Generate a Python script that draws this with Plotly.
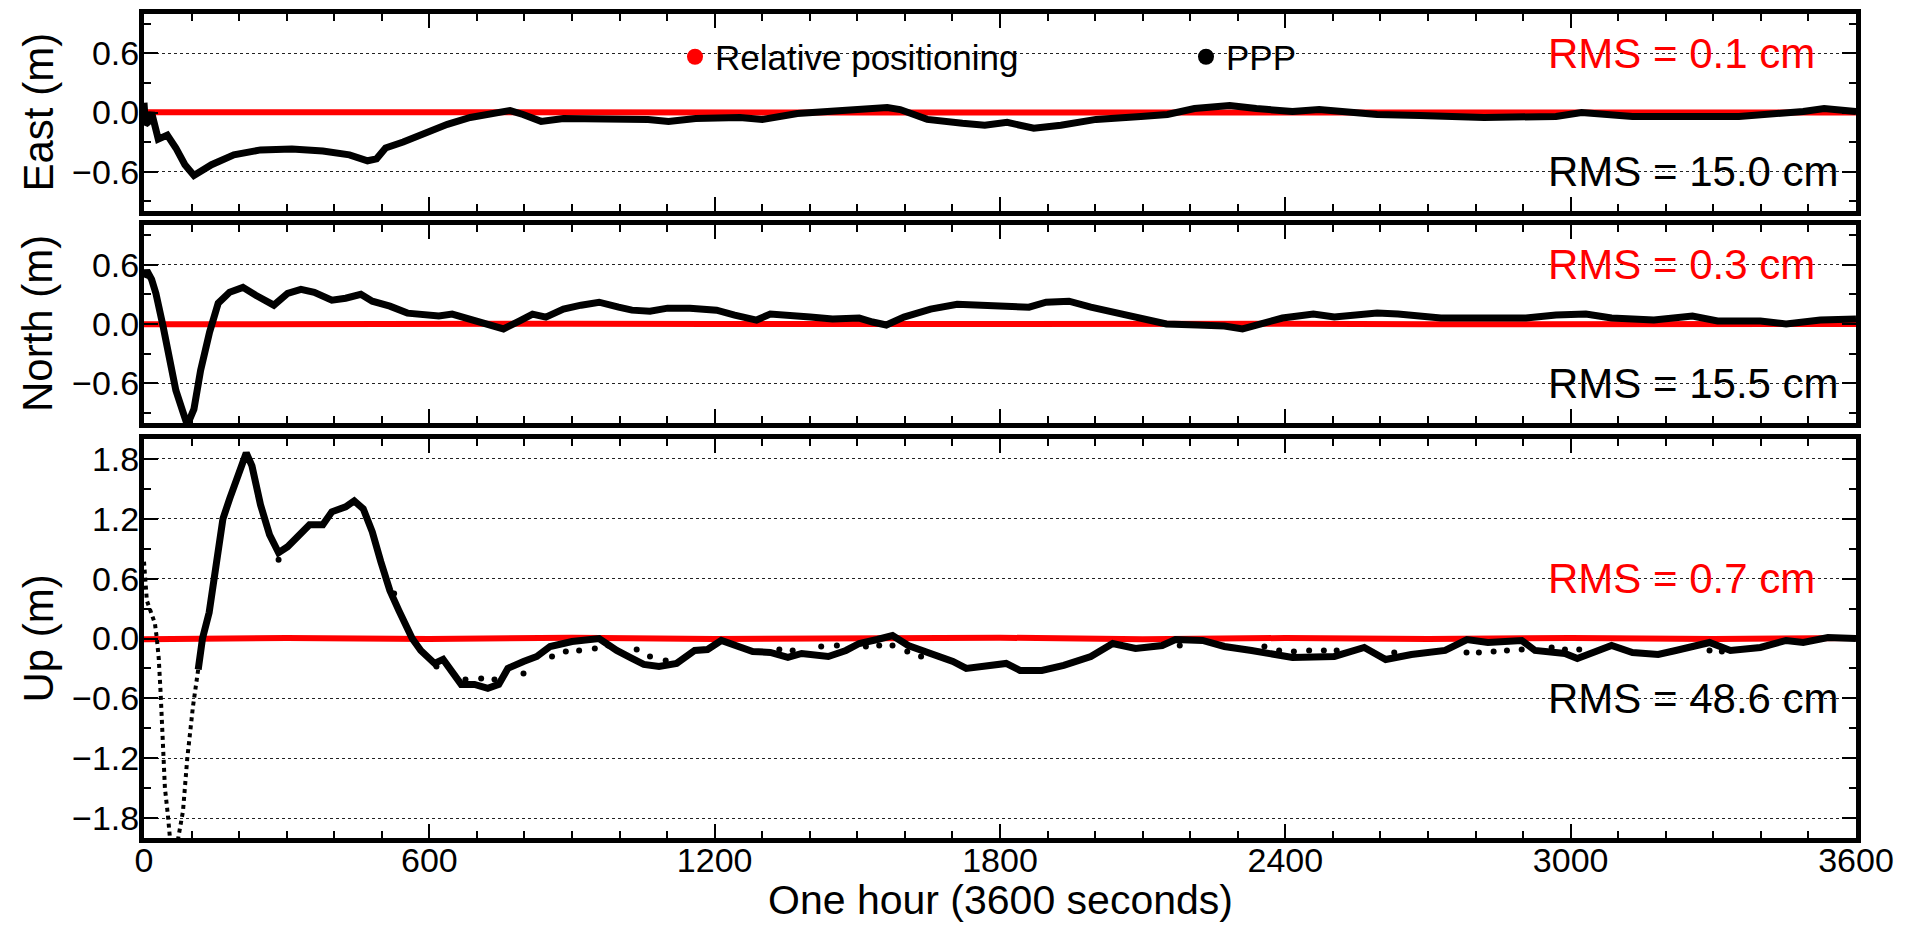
import plotly.graph_objects as go

# ---------------- data ----------------
# East PPP
east_t = [0, 3, 8, 16, 30, 49, 67, 86, 105, 124, 142, 189, 245, 311, 376, 432, 470, 489, 508, 545,
          592, 638, 686, 732, 770, 797, 835, 882, 967, 1060, 1103, 1160, 1253, 1300, 1374, 1459, 1563, 1590, 1647, 1721,
          1768, 1815, 1871, 1928, 2002, 2096, 2152, 2209, 2283, 2339, 2415, 2471, 2534, 2593, 2683, 2818, 2969, 3023, 3130, 3264,
          3354, 3489, 3533, 3600]
east_ppp = [0.10, -0.12, -0.10, 0.0, -0.27, -0.23, -0.36, -0.53, -0.64, -0.58, -0.53, -0.43, -0.38, -0.37, -0.39, -0.43, -0.49, -0.47, -0.36, -0.30,
            -0.20, -0.12, -0.05, -0.01, 0.02, -0.02, -0.09, -0.06, -0.06, -0.07, -0.09, -0.06, -0.05, -0.07, -0.01, 0.01, 0.05, 0.03, -0.07, -0.11,
            -0.13, -0.10, -0.16, -0.13, -0.07, -0.04, -0.02, 0.04, 0.07, 0.04, 0.01, 0.03, 0.01, -0.02, -0.03, -0.05, -0.04, 0.0, -0.04, -0.03,
            -0.04, 0.01, 0.04, 0.01]

# North PPP
north_t = [0, 6, 16, 25, 40, 53, 67, 82, 91, 105, 119, 138, 156, 180, 208, 235, 273, 302, 330, 358,
           395, 424, 456, 480, 517, 554, 592, 620, 648, 686, 723, 756, 789, 817, 845, 882, 919, 957, 998, 1026,
           1064, 1101, 1148, 1204, 1242, 1288, 1317, 1364, 1401, 1448, 1504, 1532, 1561, 1598, 1654, 1710, 1756, 1804, 1861, 1897,
           1945, 1991, 2048, 2094, 2150, 2215, 2272, 2310, 2348, 2394, 2459, 2503, 2593, 2637, 2727, 2818, 2906, 2969, 3032, 3086,
           3175, 3256, 3309, 3399, 3453, 3525, 3600]
north_ppp = [0.47, 0.54, 0.45, 0.31, -0.02, -0.31, -0.67, -0.89, -1.02, -0.86, -0.47, -0.08, 0.21, 0.32, 0.37, 0.29, 0.19, 0.31, 0.35, 0.32,
             0.24, 0.26, 0.30, 0.23, 0.18, 0.11, 0.09, 0.08, 0.10, 0.05, 0.01, -0.05, 0.03, 0.10, 0.07, 0.15, 0.19, 0.22, 0.17, 0.14,
             0.13, 0.16, 0.16, 0.14, 0.09, 0.04, 0.10, 0.09, 0.07, 0.05, 0.06, 0.02, -0.01, 0.07, 0.15, 0.20, 0.19, 0.17, 0.17, 0.22,
             0.23, 0.17, 0.11, 0.07, 0.0, -0.01, -0.02, -0.05, 0.0, 0.06, 0.10, 0.07, 0.11, 0.10, 0.06, 0.06, 0.06, 0.09, 0.10, 0.06,
             0.04, 0.08, 0.03, 0.03, 0.0, 0.04, 0.05]

# Up PPP: initial convergence (steep, drawn as sparse dots) and main track
up_start_t = [0, 3, 6, 12, 18, 23, 27, 31, 35, 39, 44, 50, 56, 64, 72, 82, 91, 103, 114, 123]
up_start_ppp = [0.77, 0.60, 0.38, 0.30, 0.22, 0.15, 0.0, -0.20, -0.55, -1.10, -1.50, -1.76, -2.00, -2.50, -2.00, -1.73, -1.20, -0.68, -0.31, 0.0]

up_t = [114, 123, 137, 151, 166, 180, 198, 215, 227, 245, 264, 283, 302, 320, 348, 376, 395, 424, 442, 461,
        480, 498, 517, 536, 564, 582, 611, 629, 648, 667, 695, 723, 746, 765, 798, 826, 854, 900, 957, 994,
        1026, 1051, 1083, 1120, 1158, 1185, 1214, 1242, 1280, 1317, 1354, 1383, 1439, 1476, 1504, 1542, 1574, 1607, 1654, 1701,
        1729, 1775, 1813, 1842, 1888, 1934, 1991, 2037, 2085, 2141, 2169, 2226, 2272, 2329, 2379, 2415, 2503, 2566, 2611, 2665,
        2736, 2782, 2826, 2897, 2925, 2988, 3014, 3086, 3130, 3184, 3221, 3292, 3336, 3399, 3453, 3489, 3541, 3600]
up_ppp = [-0.31, 0.0, 0.26, 0.68, 1.2, 1.4, 1.63, 1.86, 1.73, 1.34, 1.04, 0.86, 0.92, 1.0, 1.14, 1.14, 1.27, 1.32, 1.38, 1.30,
          1.07, 0.77, 0.48, 0.28, 0.0, -0.12, -0.25, -0.21, -0.35, -0.46, -0.46, -0.50, -0.46, -0.30, -0.23, -0.18, -0.08, -0.03, 0.0, -0.12,
          -0.20, -0.26, -0.28, -0.25, -0.12, -0.11, -0.02, -0.07, -0.13, -0.14, -0.19, -0.15, -0.18, -0.12, -0.05, -0.01, 0.03, -0.07, -0.15, -0.23,
          -0.30, -0.28, -0.25, -0.32, -0.32, -0.27, -0.18, -0.05, -0.10, -0.07, -0.01, -0.02, -0.08, -0.12, -0.17, -0.19, -0.18, -0.09, -0.21, -0.16,
          -0.12, -0.01, -0.04, -0.02, -0.12, -0.15, -0.20, -0.07, -0.14, -0.16, -0.12, -0.04, -0.12, -0.09, -0.02, -0.04, 0.01, 0.0]

# Up PPP sparse dots
up_sparse_t = [283, 526, 615, 676, 709, 737, 798, 858, 887, 915, 948, 976, 1036, 1064, 1097, 1336, 1364, 1424, 1457, 1518,
               1546, 1574, 1605, 1634, 2122, 2178, 2356, 2387, 2418, 2450, 2481, 2508, 2629, 2781, 2807, 2838, 2866, 2897, 2960, 2988,
               3018, 3292, 3318]
up_sparse_ppp = [0.79, 0.45, -0.28, -0.41, -0.40, -0.41, -0.35, -0.18, -0.13, -0.12, -0.10, -0.07, -0.11, -0.18, -0.22, -0.11, -0.12, -0.08, -0.07, -0.08,
                 -0.07, -0.07, -0.13, -0.18, -0.08, -0.07, -0.08, -0.12, -0.13, -0.12, -0.12, -0.12, -0.14, -0.14, -0.14, -0.13, -0.12, -0.11, -0.09, -0.11,
                 -0.11, -0.12, -0.13]

# Relative positioning (all near zero)
rel_t = [0, 300, 600, 900, 1200, 1500, 1800, 2100, 2400, 2700, 3000, 3300, 3600]
east_rel = [0.002, -0.001, 0.001, 0.0, -0.002, 0.001, 0.0, 0.001, -0.001, 0.0, 0.001, -0.001, 0.0]
north_rel = [-0.003, 0.002, -0.002, 0.003, -0.001, 0.002, -0.003, 0.001, 0.002, -0.002, 0.001, -0.001, 0.0]
up_rel = [-0.008, 0.006, -0.005, 0.007, -0.006, 0.004, 0.008, -0.007, 0.005, -0.004, 0.006, -0.005, 0.004]

panel_titles = ["East (m)", "North (m)", "Up (m)"]
rms_rel = ["RMS = 0.1 cm", "RMS = 0.3 cm", "RMS = 0.7 cm"]
rms_ppp = ["RMS = 15.0 cm", "RMS = 15.5 cm", "RMS = 48.6 cm"]
x_ticks = [0, 600, 1200, 1800, 2400, 3000, 3600]
x_title = "One hour (3600 seconds)"

# ---------------- figure ----------------
FONT = "Liberation Sans, Arial, Helvetica, sans-serif"
RED = "#ff0000"
BLACK = "#000000"

W, H = 1919, 927
ML, MR, MT, MB = 144, 63, 14, 89
PH = H - MT - MB  # 824
PW = W - ML - MR  # 1712

fig = go.Figure()

def add_line(x, y, ax, color, width, dash="solid"):
    fig.add_trace(go.Scatter(x=x, y=y, mode="lines", xaxis=ax[0], yaxis=ax[1],
                             line=dict(color=color, width=width, dash=dash),
                             showlegend=False, hoverinfo="skip"))

axes = [("x", "y"), ("x2", "y2"), ("x3", "y3")]

add_line(rel_t, east_rel, axes[0], RED, 6)
add_line(east_t, east_ppp, axes[0], BLACK, 7)
add_line(rel_t, north_rel, axes[1], RED, 6)
add_line(north_t, north_ppp, axes[1], BLACK, 7)
add_line(rel_t, up_rel, axes[2], RED, 6)
add_line(up_start_t, up_start_ppp, axes[2], BLACK, 4, dash="dot")
add_line(up_t, up_ppp, axes[2], BLACK, 7)
fig.add_trace(go.Scatter(x=up_sparse_t, y=up_sparse_ppp, mode="markers", xaxis="x3", yaxis="y3",
                         marker=dict(color=BLACK, size=6), showlegend=False, hoverinfo="skip"))

# legend entries
fig.add_trace(go.Scatter(x=[None], y=[None], mode="markers", name="Relative positioning",
                         marker=dict(color=RED, size=16)))
fig.add_trace(go.Scatter(x=[None], y=[None], mode="markers", name="PPP",
                         marker=dict(color=BLACK, size=16)))

# plot-area pixel bounds (top, bottom) for each panel
panel_px = [(14, 211), (225, 423), (439, 838)]
domains = [[1 - (b - MT) / PH, 1 - (t - MT) / PH] for (t, b) in panel_px]
domains[2][0] = 0.0
ranges = [[-1.0, 1.0], [-1.0, 1.0], [-2.0, 2.0]]

layout = dict(
    width=W, height=H,
    margin=dict(l=ML, r=MR, t=MT, b=MB),
    paper_bgcolor="white", plot_bgcolor="white",
    font=dict(family=FONT, color=BLACK, size=33),
    showlegend=True,
    legend=dict(orientation="h", x=(675 - ML) / PW, xanchor="left", y=1 - (57 - MT) / PH, yanchor="middle",
                bgcolor="rgba(0,0,0,0)", font=dict(size=35, family=FONT),
                entrywidth=466, entrywidthmode="pixels", itemclick=False, traceorder="normal"),
)

for i in range(3):
    xs = "xaxis" if i == 0 else f"xaxis{i+1}"
    ys = "yaxis" if i == 0 else f"yaxis{i+1}"
    yid = "y" if i == 0 else f"y{i+1}"
    xid = "x" if i == 0 else f"x{i+1}"
    layout[xs] = dict(
        domain=[0, 1], anchor=yid, range=[0, 3600],
        tickvals=x_ticks, ticktext=[str(v) for v in x_ticks],
        showticklabels=(i == 2), ticks="inside", ticklen=14, tickwidth=2, tickcolor=BLACK,
        minor=dict(dtick=100, tick0=0, ticks="inside", ticklen=7, tickwidth=2, tickcolor=BLACK, showgrid=False),
        showline=True, linewidth=5, linecolor=BLACK, mirror="allticks",
        showgrid=False, zeroline=False, tickfont=dict(size=34, family=FONT),
        automargin=False, ticklabelstandoff=-12,
    )
    layout[ys] = dict(
        domain=domains[i], anchor=xid, range=ranges[i],
        dtick=0.6, tick0=0, tickformat=".1f",
        ticks="inside", ticklen=14, tickwidth=2, tickcolor=BLACK,
        minor=dict(dtick=0.3, tick0=0, ticks="inside", ticklen=7, tickwidth=2, tickcolor=BLACK, showgrid=False),
        showline=True, linewidth=5, linecolor=BLACK, mirror="allticks",
        showgrid=True, gridcolor="#222222", gridwidth=1, griddash="dot",
        zeroline=False, tickfont=dict(size=34, family=FONT),
        automargin=False, ticklabelstandoff=-7,
    )

annotations = []
for i in range(3):
    yr = "y" if i == 0 else f"y{i+1}"
    annotations.append(dict(x=(1546 - ML) / PW, xref="paper", y=0.6, yref=yr, text=rms_rel[i], showarrow=False,
                            xanchor="left", yanchor="middle", font=dict(size=42, color=RED, family=FONT)))
    annotations.append(dict(x=(1546 - ML) / PW, xref="paper", y=-0.6, yref=yr, text=rms_ppp[i], showarrow=False,
                            xanchor="left", yanchor="middle", font=dict(size=42, color=BLACK, family=FONT)))
    # y-axis title
    annotations.append(dict(x=(38 - ML) / PW, xref="paper", y=sum(domains[i]) / 2, yref="paper",
                            text=panel_titles[i], textangle=-90, showarrow=False,
                            xanchor="center", yanchor="middle", font=dict(size=42, color=BLACK, family=FONT)))
annotations.append(dict(x=0.5, xref="paper", y=(838 - 900) / PH, yref="paper", text=x_title, showarrow=False,
                        xanchor="center", yanchor="middle", font=dict(size=41, color=BLACK, family=FONT)))
layout["annotations"] = annotations

fig.update_layout(**layout)
fig.write_html("out.html", config={"displayModeBar": False},
               post_script="document.body.style.margin='0';document.body.style.overflow='hidden';")
